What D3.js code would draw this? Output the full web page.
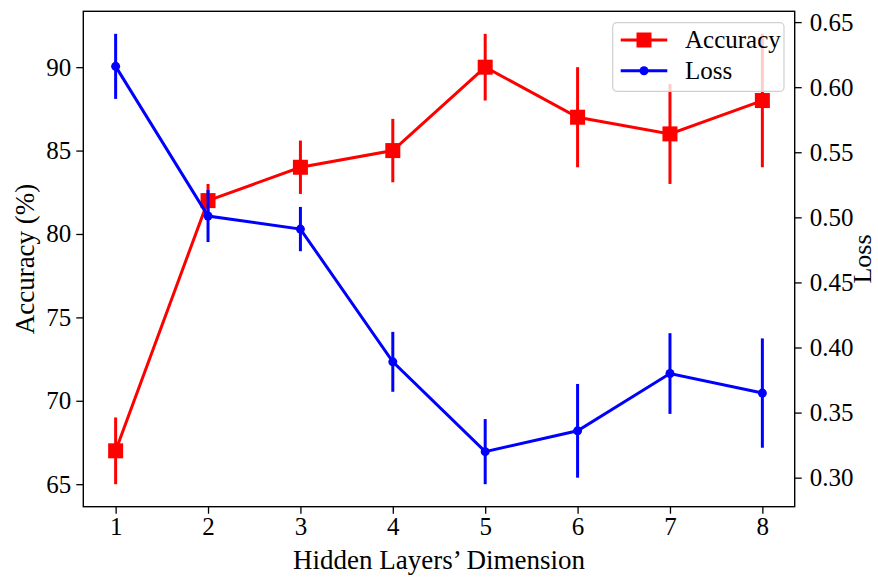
<!DOCTYPE html>
<meta charset="utf-8">
<style>
  body { margin: 0; background: #fff; }
  text { font-family: "Liberation Serif", "Times New Roman", serif; fill: #000; }
</style>
<body></body>
<script src="https://d3js.org/d3.v7.min.js"></script>
<script>

// hidden layer dimension (x categories)
const dims = [1, 2, 3, 4, 5, 6, 7, 8];

// accuracy (%) and its error
const accuracy    = [67, 82, 84, 85, 90, 87, 86, 88];
const accuracyErr = [2, 1, 1.6, 1.9, 2, 3, 3, 4];

// loss and its error
const loss    = [0.616, 0.501, 0.491, 0.389, 0.320, 0.336, 0.380, 0.365];
const lossErr = [0.025, 0.020, 0.017, 0.023, 0.025, 0.036, 0.031, 0.042];

const accTicks  = [65, 70, 75, 80, 85, 90];
const lossTicks = [0.30, 0.35, 0.40, 0.45, 0.50, 0.55, 0.60, 0.65];

const width = 878, height = 579;
const plot = {left: 83.3, right: 794.7, top: 11.3, bottom: 506.7};

// matplotlib style 5% margins around data (incl. error bars)
function padded(lo, hi) {
  const m = (hi - lo) * 0.05;
  return [lo - m, hi + m];
}

const x = d3.scaleLinear()
    .domain(padded(d3.min(dims), d3.max(dims)))
    .range([plot.left, plot.right]);

const yAcc = d3.scaleLinear()
    .domain(padded(d3.min(accuracy, (d, i) => d - accuracyErr[i]),
                   d3.max(accuracy, (d, i) => d + accuracyErr[i])))
    .range([plot.bottom, plot.top]);

const yLoss = d3.scaleLinear()
    .domain(padded(d3.min(loss, (d, i) => d - lossErr[i]),
                   d3.max(loss, (d, i) => d + lossErr[i])))
    .range([plot.bottom, plot.top]);

const svg = d3.select("body").append("svg")
    .attr("width", width)
    .attr("height", height);

// axes
const fontSize = 25;

const xAxis = svg.append("g")
    .attr("transform", `translate(0,${plot.bottom})`)
    .call(d3.axisBottom(x).tickValues(dims).tickSize(7).tickPadding(4).tickFormat(d3.format("d")));

const leftAxis = svg.append("g")
    .attr("transform", `translate(${plot.left},0)`)
    .call(d3.axisLeft(yAcc).tickValues(accTicks).tickSize(7).tickPadding(5).tickFormat(d3.format("d")));

const rightAxis = svg.append("g")
    .attr("transform", `translate(${plot.right},0)`)
    .call(d3.axisRight(yLoss).tickValues(lossTicks).tickSize(7).tickPadding(8).tickFormat(d3.format(".2f")));

[xAxis, leftAxis, rightAxis].forEach(a => {
  a.select(".domain").remove();
  a.selectAll(".tick line").attr("stroke", "#000").attr("stroke-width", 1.3);
  a.selectAll(".tick text")
      .attr("font-family", "Liberation Serif, serif")
      .attr("font-size", fontSize);
});

// frame
svg.append("rect")
    .attr("x", plot.left)
    .attr("y", plot.top)
    .attr("width", plot.right - plot.left)
    .attr("height", plot.bottom - plot.top)
    .attr("fill", "none")
    .attr("stroke", "#000")
    .attr("stroke-width", 1.4);

// axis titles
svg.append("text")
    .attr("x", (plot.left + plot.right) / 2)
    .attr("y", 569)
    .attr("text-anchor", "middle")
    .attr("font-size", 27)
    .text("Hidden Layers’ Dimension");

svg.append("text")
    .attr("transform", `translate(34,${(plot.top + plot.bottom) / 2}) rotate(-90)`)
    .attr("text-anchor", "middle")
    .attr("font-size", 27)
    .text("Accuracy (%)");

svg.append("text")
    .attr("transform", `translate(871,${(plot.top + plot.bottom) / 2}) rotate(-90)`)
    .attr("text-anchor", "middle")
    .attr("font-size", 26)
    .text("Loss");

// series drawing
function drawSeries(values, errs, y, color, marker) {
  const g = svg.append("g");
  const rows = dims.map((d, i) => ({x: d, v: values[i], e: errs[i]}));

  g.append("path")
      .datum(rows)
      .attr("fill", "none")
      .attr("stroke", color)
      .attr("stroke-width", 3)
      .attr("d", d3.line().x(d => x(d.x)).y(d => y(d.v)));

  g.selectAll("line.err")
    .data(rows)
    .join("line")
      .attr("class", "err")
      .attr("x1", d => x(d.x)).attr("x2", d => x(d.x))
      .attr("y1", d => y(d.v - d.e)).attr("y2", d => y(d.v + d.e))
      .attr("stroke", color)
      .attr("stroke-width", 3);

  if (marker === "square") {
    g.selectAll("rect")
      .data(rows)
      .join("rect")
        .attr("x", d => x(d.x) - 7.5)
        .attr("y", d => y(d.v) - 7.5)
        .attr("width", 15)
        .attr("height", 15)
        .attr("fill", color);
  } else {
    g.selectAll("circle")
      .data(rows)
      .join("circle")
        .attr("cx", d => x(d.x))
        .attr("cy", d => y(d.v))
        .attr("r", 4.5)
        .attr("fill", color);
  }
}

drawSeries(accuracy, accuracyErr, yAcc, "#ff0000", "square");
drawSeries(loss, lossErr, yLoss, "#0000ff", "circle");

// legend
const legend = svg.append("g").attr("transform", "translate(612.7,22.7)");
legend.append("rect")
    .attr("width", 171.3)
    .attr("height", 68.6)
    .attr("rx", 4)
    .attr("fill", "#fff")
    .attr("fill-opacity", 0.8)
    .attr("stroke", "#d0d0d0")
    .attr("stroke-width", 1.2);

const items = [
  {name: "Accuracy", color: "#ff0000", marker: "square", y: 17.3},
  {name: "Loss", color: "#0000ff", marker: "circle", y: 48}
];

items.forEach(it => {
  legend.append("line")
      .attr("x1", 8).attr("x2", 54.6)
      .attr("y1", it.y).attr("y2", it.y)
      .attr("stroke", it.color)
      .attr("stroke-width", 3);
  if (it.marker === "square") {
    legend.append("rect")
        .attr("x", 31.3 - 7.5).attr("y", it.y - 7.5)
        .attr("width", 15).attr("height", 15)
        .attr("fill", it.color);
  } else {
    legend.append("circle")
        .attr("cx", 31.3).attr("cy", it.y).attr("r", 4.5)
        .attr("fill", it.color);
  }
  legend.append("text")
      .attr("x", 72.3)
      .attr("y", it.y + 8)
      .attr("font-size", 25)
      .text(it.name);
});

</script>
